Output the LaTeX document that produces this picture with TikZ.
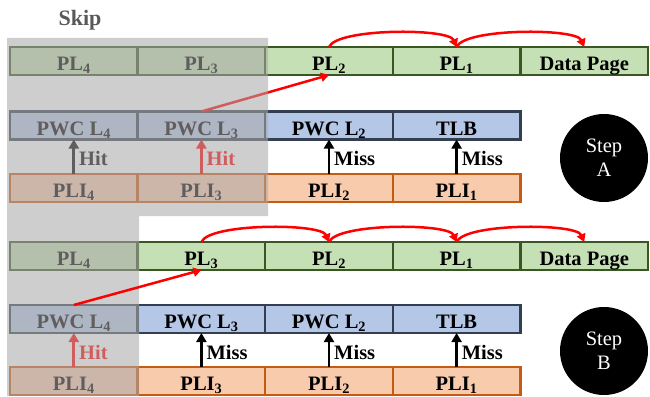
\documentclass[tikz,border=0pt]{standalone}
\usepackage{fontspec}
\setmainfont{Liberation Serif}
\usetikzlibrary{arrows.meta}

\definecolor{plfill}{RGB}{197,224,180}
\definecolor{pldraw}{RGB}{56,87,35}
\definecolor{pwcfill}{RGB}{180,199,231}
\definecolor{pwcdraw}{RGB}{51,63,80}
\definecolor{plifill}{RGB}{248,203,173}
\definecolor{plidraw}{RGB}{197,90,17}
\definecolor{skipgray}{RGB}{170,167,167}
\definecolor{skiptext}{RGB}{89,89,89}

\tikzset{
	cell/.style={minimum width=127.6pt, minimum height=28pt, line width=2.5pt, inner sep=0pt, outer sep=0pt, text height=19pt, text depth=0pt, font=\bfseries\fontsize{20.5}{24}\selectfont},
	plcell/.style={cell, draw=pldraw, fill=plfill},
	pwccell/.style={cell, draw=pwcdraw, fill=pwcfill},
	plicell/.style={cell, draw=plidraw, fill=plifill},
	walk/.style={line width=2.8pt, -{Triangle[length=9pt,width=10pt]}},
	hop/.style={red, line width=2.5pt, -{Triangle[length=8pt,width=9pt]}},
	note/.style={anchor=west, inner sep=0pt, font=\bfseries\fontsize{20.5}{24}\selectfont},
	stepdot/.style={circle, fill=black, minimum size=88pt, inner sep=0pt, text=white, align=center, font=\fontsize{20.5}{24}\selectfont}
}

\begin{document}
\begin{tikzpicture}[x=1pt, y=1pt]
			%%%%% START %%%%%
			\useasboundingbox (0,0) rectangle (650,-396);
			
			% step A
			\node[plcell] (plA4) at (73.8,-61) {PL\textsubscript{4}};
			\node[plcell] (plA3) at (201.4,-61) {PL\textsubscript{3}};
			\node[plcell] (plA2) at (329,-61) {PL\textsubscript{2}};
			\node[plcell] (plA1) at (456.6,-61) {PL\textsubscript{1}};
			\node[plcell] (dpA) at (584.2,-61) {Data Page};
			
			\node[pwccell] (pwcA4) at (73.8,-125.5) {PWC L\textsubscript{4}};
			\node[pwccell] (pwcA3) at (201.4,-125.5) {PWC L\textsubscript{3}};
			\node[pwccell] (pwcA2) at (329,-125.5) {PWC L\textsubscript{2}};
			\node[pwccell] (tlbA) at (456.6,-125.5) {TLB};
			
			\node[plicell] (pliA4) at (73.8,-188) {PLI\textsubscript{4}};
			\node[plicell] (pliA3) at (201.4,-188) {PLI\textsubscript{3}};
			\node[plicell] (pliA2) at (329,-188) {PLI\textsubscript{2}};
			\node[plicell] (pliA1) at (456.6,-188) {PLI\textsubscript{1}};
			
			\draw[walk] (pliA4.north) -- (pwcA4.south);
			\node[note] (hitA4) at (79,-158.5) {Hit};
			\draw[walk, red] (pliA3.north) -- (pwcA3.south);
			\node[note, text=red] (hitA3) at (206.4,-158.5) {Hit};
			\draw[walk] (pliA2.north) -- (pwcA2.south);
			\node[note] (missA2) at (334,-158.5) {Miss};
			\draw[walk] (pliA1.north) -- (tlbA.south);
			\node[note] (missA1) at (461.6,-158.5) {Miss};
			
			\draw[hop] (pwcA3.north) -- (plA2.south);
			\draw[hop] (plA2.north) .. controls +(8,19) and +(-8,19) .. (plA1.north);
			\draw[hop] (plA1.north) .. controls +(8,19) and +(-8,19) .. (dpA.north);
			
			% step B
			\node[plcell] (plB4) at (73.8,-256) {PL\textsubscript{4}};
			\node[plcell] (plB3) at (201.4,-256) {PL\textsubscript{3}};
			\node[plcell] (plB2) at (329,-256) {PL\textsubscript{2}};
			\node[plcell] (plB1) at (456.6,-256) {PL\textsubscript{1}};
			\node[plcell] (dpB) at (584.2,-256) {Data Page};
			
			\node[pwccell] (pwcB4) at (73.8,-319) {PWC L\textsubscript{4}};
			\node[pwccell] (pwcB3) at (201.4,-319) {PWC L\textsubscript{3}};
			\node[pwccell] (pwcB2) at (329,-319) {PWC L\textsubscript{2}};
			\node[pwccell] (tlbB) at (456.6,-319) {TLB};
			
			\node[plicell] (pliB4) at (73.8,-381) {PLI\textsubscript{4}};
			\node[plicell] (pliB3) at (201.4,-381) {PLI\textsubscript{3}};
			\node[plicell] (pliB2) at (329,-381) {PLI\textsubscript{2}};
			\node[plicell] (pliB1) at (456.6,-381) {PLI\textsubscript{1}};
			
			\draw[walk, red] (pliB4.north) -- (pwcB4.south);
			\node[note, text=red] (hitB4) at (79,-352) {Hit};
			\draw[walk] (pliB3.north) -- (pwcB3.south);
			\node[note] (missB3) at (206.4,-352) {Miss};
			\draw[walk] (pliB2.north) -- (pwcB2.south);
			\node[note] (missB2) at (334,-352) {Miss};
			\draw[walk] (pliB1.north) -- (tlbB.south);
			\node[note] (missB1) at (461.6,-352) {Miss};
			
			\draw[hop] (plB3.north) .. controls +(8,19) and +(-8,19) .. (plB2.north);
			\draw[hop] (plB2.north) .. controls +(8,19) and +(-8,19) .. (plB1.north);
			\draw[hop] (plB1.north) .. controls +(8,19) and +(-8,19) .. (dpB.north);
			
			% skipped levels
			\fill[skipgray, opacity=0.56] (7,-38) -- (268,-38) -- (268,-216) -- (139,-216) -- (139,-396) -- (7,-396) -- cycle;
			\node[font=\bfseries\fontsize{22}{26}\selectfont, text=skiptext] (skip) at (80,-20) {Skip};
			
			\draw[hop] (pwcB4.north) -- (plB3.south);
			
			\node[stepdot] (stepA) at (604,-158) {Step\\A};
			\node[stepdot] (stepB) at (604,-351) {Step\\B};
			%%%%% END %%%%%
\end{tikzpicture}
\end{document}
